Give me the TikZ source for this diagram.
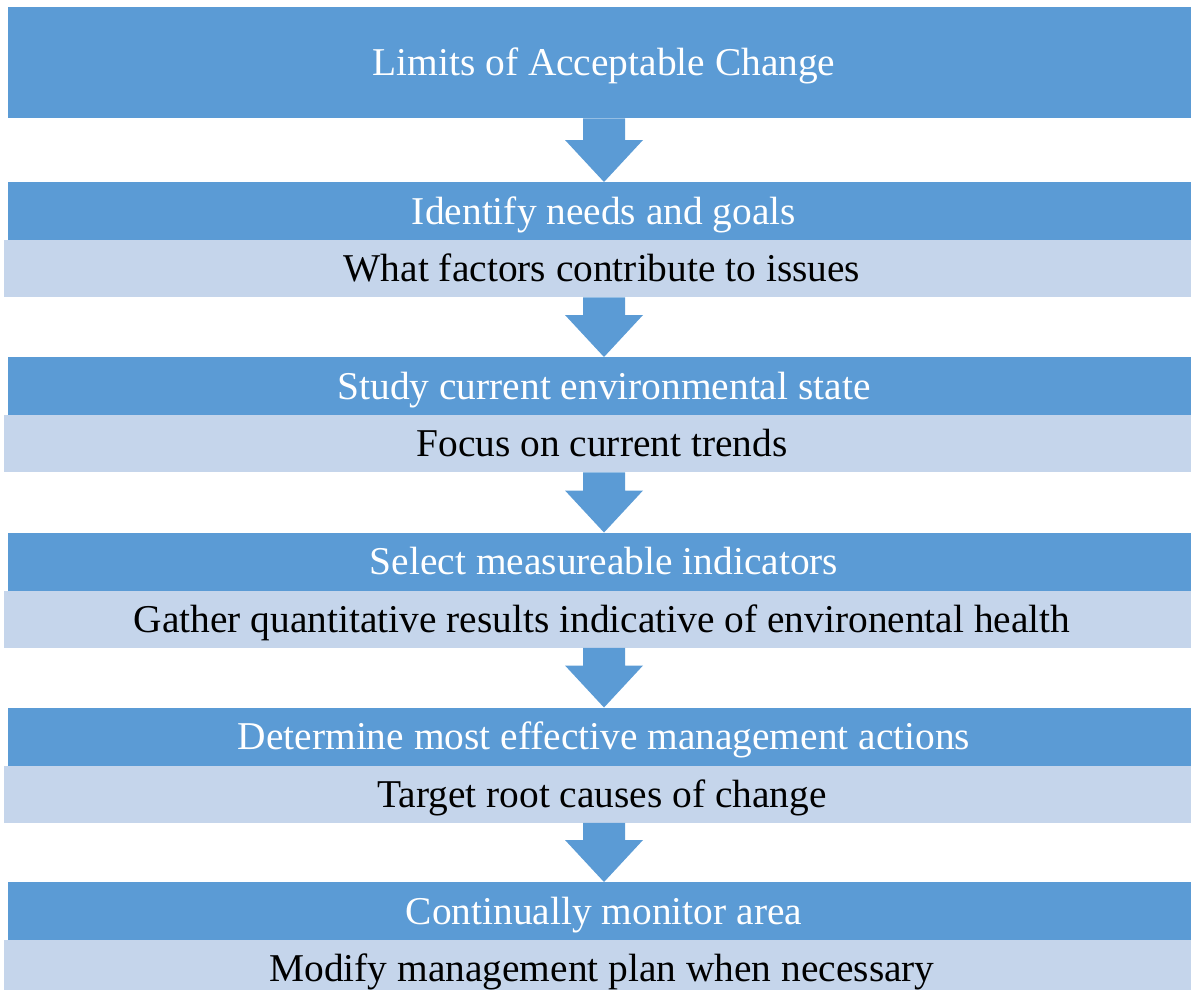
\documentclass[tikz,border=0pt]{standalone}
\usepackage{fontspec}
\setmainfont{Liberation Serif}
\usetikzlibrary{calc}
\definecolor{bandblue}{HTML}{5B9BD5}
\definecolor{bandlight}{HTML}{C5D5EB}
\newcommand\flowarrow[2]{%
  \coordinate (fa-s) at (#1.south -| #2.north);
  \fill[blockarrow] ($(fa-s)+(-21,0)$) -- ($(fa-s)+(21,0)$) -- ($(#2.north)+(21,-42)$) -- ($(#2.north)+(39,-42)$) -- (#2.north) -- ($(#2.north)+(-39,-42)$) -- ($(#2.north)+(-21,-42)$) -- cycle;}
\begin{document}
\begin{tikzpicture}[x=1pt,y=-1pt,
  txt/.style={font=\fontsize{39.4}{47}\selectfont, text height=26pt, text depth=0pt, inner sep=0pt, anchor=north},
  darkband/.style={txt, fill=bandblue, text=white, minimum width=1192pt, minimum height=58pt},
  lightband/.style={txt, fill=bandlight, text=black, minimum width=1196pt, minimum height=57pt},
  blockarrow/.style={fill=bandblue}]
\clip (0,0) rectangle (1191,989);
\node[darkband, minimum height=111pt] (t0) at (604,7) {Limits of Acceptable Change};
\node[darkband] (d1) at (604,182) {Identify needs and goals};
\node[lightband] (l1) at (602,240) {What factors contribute to issues};
\node[darkband] (d2) at (604,357) {Study current environmental state};
\node[lightband] (l2) at (602,415) {Focus on current trends};
\node[darkband] (d3) at (604,532.5) {Select measureable indicators};
\node[lightband] (l3) at (602,590.5) {Gather quantitative results indicative of environental health};
\node[darkband] (d4) at (604,707.5) {Determine most effective management actions};
\node[lightband] (l4) at (602,765.5) {Target root causes of change};
\node[darkband] (d5) at (604,882) {Continually monitor area};
\node[lightband] (l5) at (602,940) {Modify management plan when necessary};
\flowarrow{t0}{d1}
\flowarrow{l1}{d2}
\flowarrow{l2}{d3}
\flowarrow{l3}{d4}
\flowarrow{l4}{d5}
\end{tikzpicture}
\end{document}
